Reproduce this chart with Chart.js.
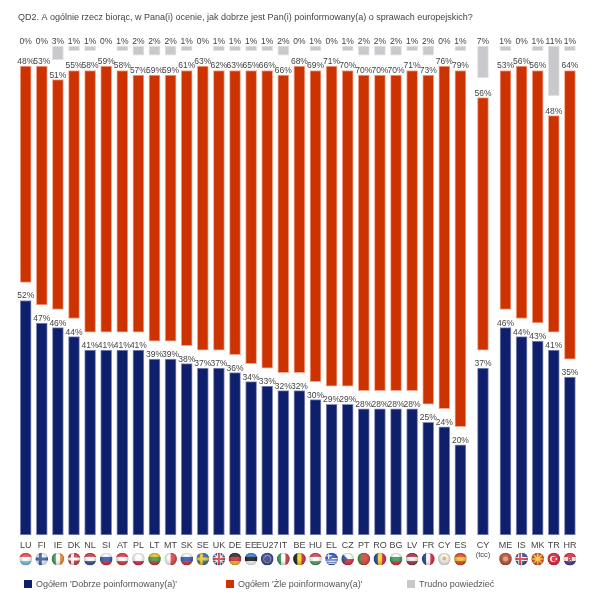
<!DOCTYPE html>
<html>
<head>
<meta charset="utf-8">
<title>QD2</title>
<script src="https://cdn.jsdelivr.net/npm/chart.js@4"></script>
<style>
    body { margin: 0; background: #fff; }
    #wrap { position: relative; width: 591px; height: 600px; }
    .legend-item { position: absolute; top: 579px; font: 9px "Liberation Sans", Arial, sans-serif; color: #555; line-height: 10px; white-space: nowrap; }
    .legend-item i { position: absolute; left: -12px; top: 1px; width: 8px; height: 8px; }
</style>
</head>
<body>
<div id="wrap">
    <canvas id="chart" width="591" height="600"></canvas>
</div>
<script>
'use strict';

const titleText = "QD2. A ogólnie rzecz biorąc, w Pana(i) ocenie, jak dobrze jest Pan(i) poinformowany(a) o sprawach europejskich?";

const categories = ['LU', 'FI', 'IE', 'DK', 'NL', 'SI', 'AT', 'PL', 'LT', 'MT', 'SK', 'SE', 'UK', 'DE', 'EE', 'EU27', 'IT', 'BE', 'HU', 'EL', 'CZ', 'PT', 'RO', 'BG', 'LV', 'FR', 'CY', 'ES', 'CY', 'ME', 'IS', 'MK', 'TR', 'HR'];
const goodValues = [52, 47, 46, 44, 41, 41, 41, 41, 39, 39, 38, 37, 37, 36, 34, 33, 32, 32, 30, 29, 29, 28, 28, 28, 28, 25, 24, 20, 37, 46, 44, 43, 41, 35];
const badValues = [48, 53, 51, 55, 58, 59, 58, 57, 59, 59, 61, 63, 62, 63, 65, 66, 66, 68, 69, 71, 70, 70, 70, 70, 71, 73, 76, 79, 56, 53, 56, 56, 48, 64];
const dkValues = [0, 0, 3, 1, 1, 0, 1, 2, 2, 2, 1, 0, 1, 1, 1, 1, 2, 0, 1, 0, 1, 2, 2, 2, 1, 2, 0, 1, 7, 1, 0, 1, 11, 1];
const seriesNames = ["Ogółem 'Dobrze poinformowany(a)'", "Ogółem 'Żle poinformowany(a)'", "Trudno powiedzieć"];

// Gap between the blue and red bars, and the line the grey bars hang from (in % units)
const redGap = 4;
const greyTop = 108.4;

// CY (tcc) sits apart from the rest, so the slots after ES and after it get pushed right
const slots = categories.map((c, i) => i + (i >= 28 ? 0.4 : 0) + (i >= 29 ? 0.4 : 0));

// Round flags under the axis. h = horizontal stripes, v = vertical stripes, x = nordic cross,
// the last colour of a d entry is the emblem painted by drawEmblem
const flags = [
    ['h', '#e8404a', '#fff', '#6cc4ee'],
    ['x', '#f4f6fa', '#2a5aa0'],
    ['v', '#2f9a4f', '#fff', '#ee8a2c'],
    ['x', '#c8313e', '#fff'],
    ['h', '#c8313e', '#fff', '#2c4a94'],
    ['h', '#fff', '#2a50a8', '#d8202c'],
    ['h', '#d8303a', '#fff', '#d8303a'],
    ['h', '#fff', '#fff', '#d8203a'],
    ['h', '#e8c020', '#3a9a3a', '#c83030'],
    ['v', '#fff', '#e03a40'],
    ['h', '#fff', '#2a50b0', '#d82838'],
    ['x', '#2a6ab0', '#f0c820'],
    ['d', 'uk', '#2a3f88'],
    ['h', '#222', '#d0202a', '#f0c020'],
    ['h', '#3a78c8', '#111', '#fff'],
    ['d', 'eu', '#2a3a98'],
    ['v', '#2f9a4f', '#fff', '#d83038'],
    ['v', '#111', '#f0d020', '#d82030'],
    ['h', '#d0384a', '#fff', '#4a9a5a'],
    ['d', 'el', '#2a50c0'],
    ['d', 'cz', '#fff'],
    ['v', '#3a8a3a', '#d83a30', '#d83a30'],
    ['v', '#1a3a98', '#f8d020', '#d82030'],
    ['h', '#fff', '#2f9a4f', '#d82830'],
    ['h', '#9a2a3a', '#f4f0f0', '#9a2a3a'],
    ['v', '#1a3a98', '#fff', '#d82030'],
    ['d', 'cy', '#f6f4ec'],
    ['h', '#d8402a', '#f4c020', '#d8402a'],
    null,
    ['d', 'me', '#b84a38'],
    ['d', 'is', '#2a4a98'],
    ['d', 'mk', '#e0451f'],
    ['d', 'tr', '#e01a38'],
    ['d', 'hr', '#d82838']
];

const fontFamily = '"Liberation Sans", Arial, sans-serif';
const textColor = '#444';

function points(values) {
    return values.map((v, i) => ({x: slots[i], y: v}));
}

function dot(ctx, x, y, r, color) {
    ctx.fillStyle = color;
    ctx.beginPath();
    ctx.arc(x, y, r, 0, Math.PI * 2);
    ctx.fill();
}

function crossBars(ctx, x, y, r, width, color) {
    ctx.fillStyle = color;
    ctx.fillRect(x - 1.5 - width / 2, y - r, width, r * 2);
    ctx.fillRect(x - r, y - width / 2, r * 2, width);
}

// The flags that plain stripes can't give
function drawEmblem(ctx, x, y, r, name) {
    if (name == 'uk') {
        ctx.strokeStyle = '#eee';
        ctx.lineWidth = 1.6;
        ctx.beginPath();
        ctx.moveTo(x - r, y - r);
        ctx.lineTo(x + r, y + r);
        ctx.moveTo(x + r, y - r);
        ctx.lineTo(x - r, y + r);
        ctx.stroke();
        ctx.fillStyle = '#fff';
        ctx.fillRect(x - 1.8, y - r, 3.6, r * 2);
        ctx.fillRect(x - r, y - 1.8, r * 2, 3.6);
        ctx.fillStyle = '#d83a4a';
        ctx.fillRect(x - 1, y - r, 2, r * 2);
        ctx.fillRect(x - r, y - 1, r * 2, 2);
    } else if (name == 'eu') {
        for (let i = 0; i < 12; i++) {
            let a = i * Math.PI / 6;
            dot(ctx, x + Math.cos(a) * 3.6, y + Math.sin(a) * 3.6, 0.6, '#e8d040');
        }
    } else if (name == 'el') {
        ctx.fillStyle = '#fff';
        for (let i = 0; i < 2; i++) {
            ctx.fillRect(x - r, y - 3.6 + i * 2.6 + 2.6, r * 2, 1.3);
        }
        ctx.fillRect(x - r, y + 3.6, r * 2, 1.3);
        ctx.fillStyle = '#2a50c0';
        ctx.fillRect(x - r, y - r, r, r);
        ctx.fillStyle = '#fff';
        ctx.fillRect(x - r, y - 3.8, r, 1.2);
        ctx.fillRect(x - 3.6, y - r, 1.2, r);
    } else if (name == 'cz') {
        ctx.fillStyle = '#d82838';
        ctx.fillRect(x - r, y, r * 2, r);
        ctx.fillStyle = '#2a4a98';
        ctx.beginPath();
        ctx.moveTo(x - r, y - r);
        ctx.lineTo(x, y);
        ctx.lineTo(x - r, y + r);
        ctx.fill();
    } else if (name == 'cy') {
        dot(ctx, x, y - 0.5, 2, '#d8a860');
    } else if (name == 'me') {
        dot(ctx, x, y, 2.5, '#d8a050');
    } else if (name == 'is') {
        crossBars(ctx, x, y, r, 4, '#fff');
        crossBars(ctx, x, y, r, 2, '#d83a4a');
    } else if (name == 'mk') {
        ctx.strokeStyle = '#f4d030';
        ctx.lineWidth = 1.4;
        ctx.beginPath();
        for (let i = 0; i < 8; i++) {
            let a = i * Math.PI / 4;
            ctx.moveTo(x, y);
            ctx.lineTo(x + Math.cos(a) * r, y + Math.sin(a) * r);
        }
        ctx.stroke();
        dot(ctx, x, y, 1.8, '#f4d030');
    } else if (name == 'tr') {
        dot(ctx, x - 0.8, y, 3, '#fff');
        dot(ctx, x + 0.1, y, 2.4, '#e01a38');
        dot(ctx, x + 2.6, y, 0.9, '#fff');
    } else if (name == 'hr') {
        ctx.fillStyle = '#fff';
        ctx.fillRect(x - r, y - 2, r * 2, 4);
        ctx.fillStyle = '#2a3a98';
        ctx.fillRect(x - r, y + 2, r * 2, r);
        ctx.fillStyle = '#d82838';
        ctx.fillRect(x - 2, y - 2, 4, 5);
        ctx.fillStyle = '#fff';
        ctx.fillRect(x - 1, y - 1, 1, 1);
        ctx.fillRect(x, y + 1, 1, 1);
    }
}

// Draws one round flag from its entry in the flags list
function drawFlag(ctx, x, y, r, flag) {
    ctx.save();
    ctx.beginPath();
    ctx.arc(x, y, r, 0, Math.PI * 2);
    ctx.clip();
    let kind = flag[0];
    let colors = flag.slice(1);
    if (kind == 'x') {
        ctx.fillStyle = colors[0];
        ctx.fillRect(x - r, y - r, r * 2, r * 2);
        crossBars(ctx, x, y, r, 3, colors[1]);
    } else if (kind == 'd') {
        ctx.fillStyle = colors[1];
        ctx.fillRect(x - r, y - r, r * 2, r * 2);
        drawEmblem(ctx, x, y, r, colors[0]);
    } else {
        let n = colors.length;
        colors.forEach((color, i) => {
            ctx.fillStyle = color;
            if (kind == 'h') {
                ctx.fillRect(x - r, y - r + i * 2 * r / n, r * 2, 2 * r / n + 0.5);
            } else {
                ctx.fillRect(x - r + i * 2 * r / n, y - r, 2 * r / n + 0.5, r * 2);
            }
        });
    }
    // Dull shading at the rim so they read as buttons
    let shade = ctx.createRadialGradient(x, y - 2, 2, x, y, r);
    shade.addColorStop(0, 'rgba(255,255,255,0.15)');
    shade.addColorStop(1, 'rgba(40,40,40,0.3)');
    ctx.fillStyle = shade;
    ctx.fillRect(x - r, y - r, r * 2, r * 2);
    ctx.restore();
}

// Percent labels over the bars, the (tcc) note and the flags
const extrasPlugin = {
    id: 'extras',
    afterDatasetsDraw(chart) {
        let ctx = chart.ctx;
        ctx.save();
        ctx.font = '8.5px ' + fontFamily;
        ctx.fillStyle = textColor;
        ctx.textAlign = 'center';
        ctx.textBaseline = 'alphabetic';
        [goodValues, badValues].forEach((values, d) => {
            chart.getDatasetMeta(d).data.forEach((bar, i) => {
                ctx.fillText(values[i] + '%', bar.x, bar.y - 2);
            });
        });
        let greyY = chart.scales.y.getPixelForValue(greyTop);
        chart.getDatasetMeta(2).data.forEach((bar, i) => {
            ctx.fillText(dkValues[i] + '%', bar.x, greyY - 2);
        });
        let x = chart.scales.x;
        ctx.font = '7.5px ' + fontFamily;
        ctx.fillStyle = textColor;
        ctx.fillText('(tcc)', x.getPixelForValue(slots[28]), 557);
        flags.forEach((flag, i) => {
            if (flag) {
                drawFlag(ctx, x.getPixelForValue(slots[i]), 559, 6.3, flag);
            }
        });
        ctx.restore();
    }
};

let chart = new Chart(document.getElementById('chart').getContext('2d'), {
    type: 'bar',
    data: {
        datasets: [{
            label: seriesNames[0],
            data: points(goodValues),
            backgroundColor: '#0e1f6b',
            borderColor: '#8a90bc'
        }, {
            label: seriesNames[1],
            data: points(badValues.map((v, i) => [goodValues[i] + redGap, goodValues[i] + redGap + v])),
            backgroundColor: '#cc3300',
            borderColor: '#f2a88e'
        }, {
            label: seriesNames[2],
            data: points(dkValues.map(v => [greyTop - v, greyTop])),
            backgroundColor: '#c8c9cc',
            borderColor: '#e2e2e4'
        }]
    },
    options: {
        responsive: false,
        animation: false,
        layout: {padding: {left: 18}},
        datasets: {
            bar: {grouped: false, barThickness: 11, borderWidth: 1, borderSkipped: false}
        },
        scales: {
            x: {
                type: 'linear',
                offset: false,
                min: -0.478,
                max: 35.11,
                grid: {display: false, drawTicks: false},
                border: {display: false},
                afterBuildTicks: (scale) => {
                    scale.ticks = slots.map(v => ({value: v}));
                },
                afterFit: (scale) => {
                    scale.height = 65;
                    scale.paddingLeft = 0;
                    scale.paddingRight = 0;
                },
                ticks: {
                    autoSkip: false,
                    maxRotation: 0,
                    padding: 5,
                    color: textColor,
                    font: {family: fontFamily, size: 9},
                    callback: (v) => categories[slots.indexOf(v)]
                }
            },
            y: {
                display: false,
                min: 0,
                max: 111.8
            }
        },
        plugins: {
            legend: {display: false},
            tooltip: {enabled: false},
            title: {
                display: true,
                text: titleText,
                align: 'start',
                color: textColor,
                font: {family: fontFamily, size: 9, weight: 'normal'},
                padding: {top: 12, bottom: 8}
            }
        }
    },
    plugins: [extrasPlugin]
});

// Legend sits in the page under the chart, built from the datasets
const legendLeft = [36, 238, 419];
chart.data.datasets.forEach((dataset, i) => {
    let item = document.createElement('div');
    item.className = 'legend-item';
    item.style.left = legendLeft[i] + 'px';
    let box = document.createElement('i');
    box.style.background = dataset.backgroundColor;
    item.appendChild(box);
    item.appendChild(document.createTextNode(dataset.label));
    document.getElementById('wrap').appendChild(item);
});
</script>
</body>
</html>
